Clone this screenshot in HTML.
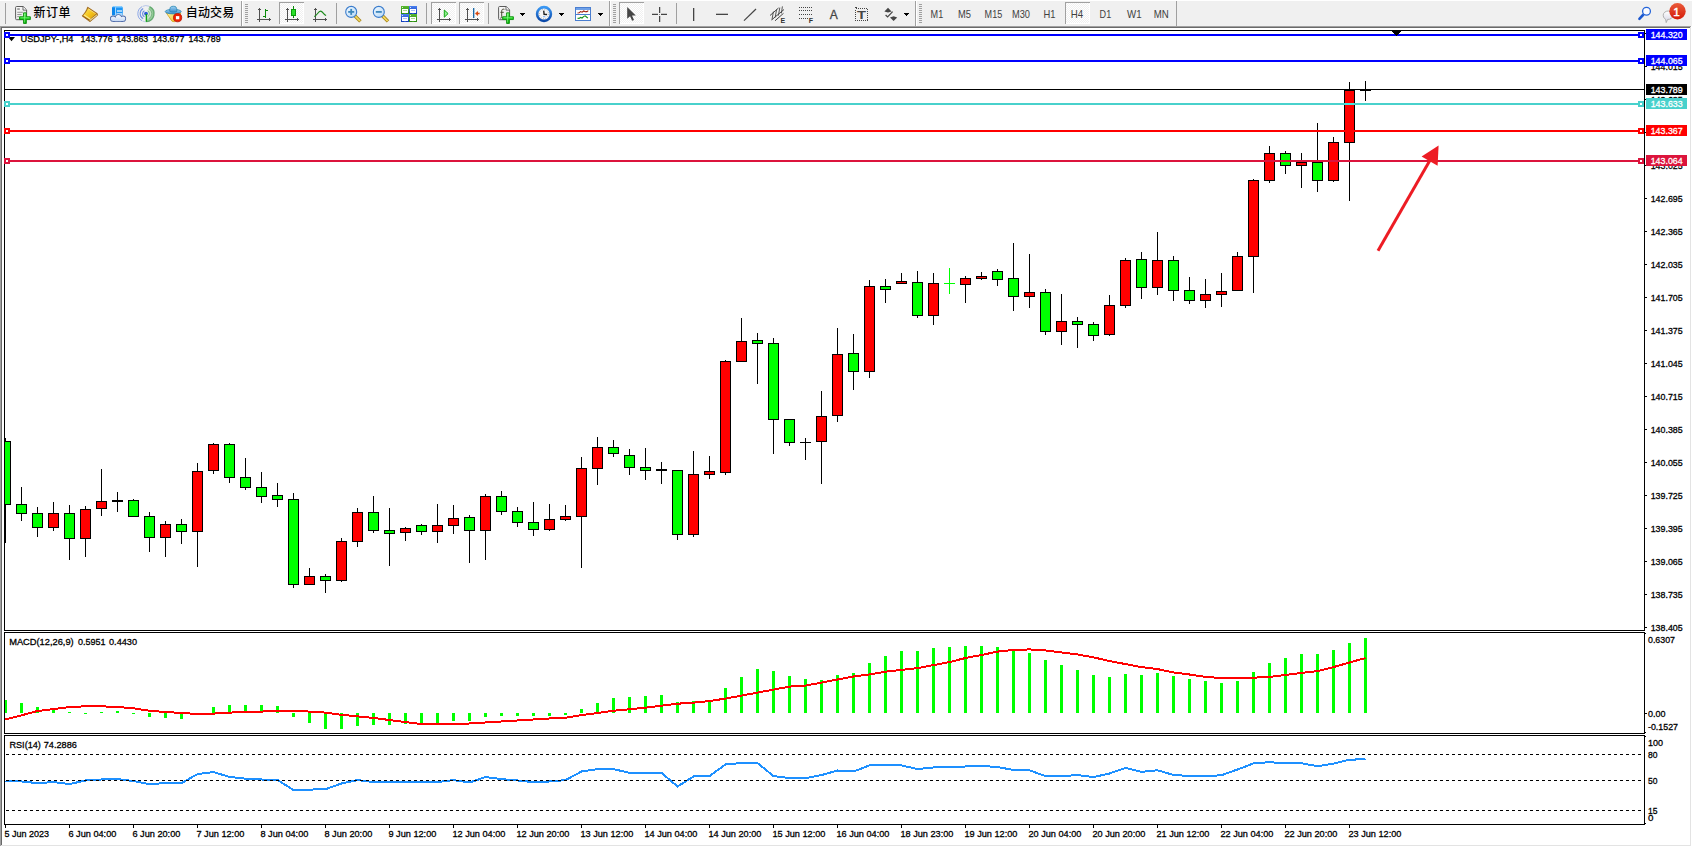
<!DOCTYPE html>
<html lang="zh-CN"><head><meta charset="utf-8"><title>USDJPY-,H4</title>
<style>
html,body{margin:0;padding:0;background:#f0f0f0;}
body{width:1692px;height:847px;overflow:hidden;position:relative;font-family:"Liberation Sans","Noto Sans CJK SC",sans-serif;}
svg{position:absolute;left:0;top:0;display:block;}
svg text{font-family:"Liberation Sans","Noto Sans CJK SC",sans-serif;white-space:pre;}
.cj{font-family:"Liberation Sans","Noto Sans CJK SC",sans-serif;}
</style></head><body>
<svg width="1692" height="847" viewBox="0 0 1692 847" shape-rendering="crispEdges">
<rect x="0" y="0" width="1692" height="26" fill="#f0f0f0"/>
<rect x="0" y="0" width="1692" height="1" fill="#ffffff"/>
<defs>
<linearGradient id="gPlus" x1="0" y1="0" x2="0" y2="1"><stop offset="0" stop-color="#7dff7d"/><stop offset="0.5" stop-color="#1fd51f"/><stop offset="1" stop-color="#0cae0c"/></linearGradient>
<linearGradient id="gPage" x1="0" y1="0" x2="1" y2="1"><stop offset="0" stop-color="#ffffff"/><stop offset="1" stop-color="#dcdcdc"/></linearGradient>
<linearGradient id="gGold" x1="0" y1="0" x2="1" y2="1"><stop offset="0" stop-color="#ffe968"/><stop offset="0.5" stop-color="#f4c41c"/><stop offset="1" stop-color="#d8980e"/></linearGradient>
<linearGradient id="gBlue" x1="0" y1="0" x2="0" y2="1"><stop offset="0" stop-color="#8fd0ff"/><stop offset="1" stop-color="#1c78e0"/></linearGradient>
<linearGradient id="gCloud" x1="0" y1="14.5" x2="0" y2="21.5" gradientUnits="userSpaceOnUse"><stop offset="0" stop-color="#ffffff"/><stop offset="1" stop-color="#c4d8f4"/></linearGradient>
<linearGradient id="gLens" x1="0" y1="0" x2="1" y2="1"><stop offset="0" stop-color="#f4faff"/><stop offset="1" stop-color="#b4d8f8"/></linearGradient>
<linearGradient id="gHat" x1="0" y1="0" x2="0" y2="1"><stop offset="0" stop-color="#9fd4f4"/><stop offset="1" stop-color="#3f8ccc"/></linearGradient>
<linearGradient id="gFace" x1="0" y1="0" x2="1" y2="1"><stop offset="0" stop-color="#fff4a0"/><stop offset="1" stop-color="#e8b820"/></linearGradient>
<linearGradient id="gRed" x1="0" y1="0" x2="0" y2="1"><stop offset="0" stop-color="#ea5a3a"/><stop offset="1" stop-color="#d41a08"/></linearGradient>
<linearGradient id="gClock" x1="0" y1="0" x2="0" y2="1"><stop offset="0" stop-color="#3a98f4"/><stop offset="1" stop-color="#0a48a8"/></linearGradient>
<linearGradient id="gGrn" x1="0" y1="0" x2="0" y2="1"><stop offset="0" stop-color="#58b830"/><stop offset="1" stop-color="#2a8a10"/></linearGradient>
<linearGradient id="gBlu2" x1="0" y1="0" x2="0" y2="1"><stop offset="0" stop-color="#4a80f0"/><stop offset="1" stop-color="#1038b8"/></linearGradient>
<linearGradient id="gBub" x1="0" y1="0" x2="0" y2="1"><stop offset="0" stop-color="#ffffff"/><stop offset="1" stop-color="#d4d4e4"/></linearGradient>
<radialGradient id="gSweep" cx="146" cy="13.7" r="8.2" gradientUnits="userSpaceOnUse"><stop offset="0" stop-color="#f4faf0" stop-opacity=".5"/><stop offset=".6" stop-color="#b8dcb8" stop-opacity=".75"/><stop offset="1" stop-color="#4aa854" stop-opacity=".8"/></radialGradient>
<pattern id="chk" x="0" y="0" width="2" height="2" patternUnits="userSpaceOnUse"><rect width="2" height="2" fill="#f0f0f0"/><rect x="0" y="0" width="1" height="1" fill="#fff"/><rect x="1" y="1" width="1" height="1" fill="#fff"/></pattern>
</defs>
<rect x="5" y="3" width="1" height="21" fill="#a0a0a0"/>
<g shape-rendering="geometricPrecision"><path d="M16.6 6.5h6.6l3.4 3.4v8.8a1 1 0 0 1-1 1h-9a1 1 0 0 1-1-1v-11.2a1 1 0 0 1 1-1z" fill="url(#gPage)" stroke="#5c5c5c" stroke-width="1"/><path d="M23 6.8v3.3h3.3" fill="#fff" stroke="#5c5c5c" stroke-width=".9"/><rect x="17.2" y="8.4" width="2.6" height="1.3" fill="#7a7a7a"/><rect x="17.2" y="11.8" width="5.6" height=".9" fill="#8a8a8a"/><rect x="17.2" y="14" width="4.4" height=".9" fill="#8a8a8a"/><rect x="17.2" y="16.2" width="2" height=".9" fill="#8a8a8a"/></g>
<path d="M23.55 12.849999999999998h2.8v3.9h4.0v2.8h-4.0v3.9h-2.8v-3.9h-4.0v-2.8h4.0z" fill="url(#gPlus)" stroke="#0b8f0b" stroke-width=".9" stroke-linejoin="round" shape-rendering="geometricPrecision"/>
<path d="M24.45 13.849999999999998v8.6M20.549999999999997 17.75h8.8" stroke="#b4ffb4" stroke-width=".8" opacity=".55" fill="none" shape-rendering="geometricPrecision"/>
<text class="cj" x="33.6" y="17.3" font-size="12" font-weight="500" fill="#000" textLength="37" lengthAdjust="spacing">新订单</text>
<g shape-rendering="geometricPrecision"><path d="M87.6 7.1L97.3 13.5l.4 1.7L90 21.8l-8-5.9c2.6-2.4 4.600-5.400 5.600-8.800z" fill="#9c6210" stroke="#9c6210" stroke-width=".6" stroke-linejoin="round"/><path d="M96.9 14.300l.3 1L90 21l-.6-1z" fill="#e8dca0"/><path d="M88 8.200l8.300 5.500-6.700 5.900-6.400-4.200c2.200-2.100 3.800-4.500 4.800-7.200z" fill="url(#gGold)"/><path d="M83.600 15.500l6 3.900 1-.9-6.200-4z" fill="#fff2a0" opacity=".8"/><path d="M88.500 8.900l7.200 4.800" stroke="#fff8c8" stroke-width=".7" opacity=".75" fill="none"/></g>
<g shape-rendering="geometricPrecision"><path d="M112 7.400l1.500-1.300h8l1.300 1.300v7.800h-10.800z" fill="#1c96f6"/><path d="M112 7.400l1.500-1.300h8l1.300 1.300z" fill="#8cd0ff"/><path d="M112 7.400h3.300v7.800h-3.300z" fill="#0c86ec"/><rect x="115.100" y="7.400" width=".7" height="7.800" fill="#e4f4ff"/><rect x="117" y="10.4" width="5" height="1.2" fill="#f4fbff"/><rect x="116.4" y="13" width="6" height="2.2" fill="#a4d6ff"/><g fill="#4a68a8"><circle cx="113.1" cy="18.7" r="3.1"/><circle cx="118.4" cy="17.7" r="3.5"/><circle cx="123" cy="18.7" r="3.1"/><rect x="113" y="18" width="10" height="3.8"/></g><g fill="url(#gCloud)"><circle cx="113.1" cy="18.7" r="2.3"/><circle cx="118.4" cy="17.7" r="2.7"/><circle cx="123" cy="18.7" r="2.3"/><rect x="113" y="17.6" width="10" height="3.4"/></g></g>
<g shape-rendering="geometricPrecision" fill="none"><path d="M146 13.7L149.600 6.500A8.100 8.100 0 0 1 146.400 21.800z" fill="url(#gSweep)" stroke="none"/><g stroke="#3c6cdc"><path d="M144.400 10.700a3.400 3.400 0 0 0 0 6" stroke-width="1.100" opacity=".8"/><path d="M143.200 8.600a5.800 5.800 0 0 0 0 10.200" stroke-width="1.100" opacity=".7"/><path d="M142 6.700a8 8 0 0 0 0 14" stroke-width="1" opacity=".55"/><path d="M142.500 6.400a8 8 0 0 1 6.500 -.2" stroke-width=".9" opacity=".35"/><path d="M142.500 21a8 8 0 0 0 3.200 .8" stroke-width=".9" opacity=".3"/></g><g stroke="#4c9c5c"><path d="M147.600 10.700a3.400 3.400 0 0 1 0 6" stroke-width="1" opacity=".55"/><path d="M148.800 8.600a5.800 5.800 0 0 1 0 10.200" stroke-width="1" opacity=".55"/><path d="M149.600 6.500A8 8 0 0 1 146.400 21.700" stroke-width="1.100" opacity=".8"/></g><circle cx="146" cy="13.600" r="1.900" fill="#2a5cd8" stroke="none"/><rect x="145.700" y="14" width="1.400" height="7.800" fill="#10a418" stroke="none"/></g>
<g shape-rendering="geometricPrecision"><path d="M166.400 13h14.600l-6.600 8.800-2.400-.6z" fill="url(#gFace)" stroke="#d2a016" stroke-width=".8"/><ellipse cx="173.200" cy="11.600" rx="8" ry="2.300" fill="url(#gHat)" stroke="#2a86b4" stroke-width=".8"/><path d="M169.600 11.200c.2-2 .4-3.400 1-4.200c.8-1 4.600-1 5.400 0c.6.800.800 2.200 1 4.200c-1.800 1.200-5.600 1.200-7.400 0z" fill="url(#gHat)" stroke="#2a86b4" stroke-width=".8"/><circle cx="177.600" cy="17.700" r="4.100" fill="#ee2200" stroke="#b41404" stroke-width=".8"/><rect x="175.900" y="16.100" width="3.400" height="3.200" fill="#fff"/></g>
<text class="cj" x="185.8" y="17.3" font-size="12" font-weight="500" fill="#000" textLength="48.5" lengthAdjust="spacing">自动交易</text>
<rect x="241" y="1" width="1" height="25" fill="#a0a0a0"/><rect x="242" y="1" width="1" height="25" fill="#fff"/>
<rect x="245" y="4" width="3" height="1" fill="#a0a0a0"/>
<rect x="245" y="6" width="3" height="1" fill="#a0a0a0"/>
<rect x="245" y="8" width="3" height="1" fill="#a0a0a0"/>
<rect x="245" y="10" width="3" height="1" fill="#a0a0a0"/>
<rect x="245" y="12" width="3" height="1" fill="#a0a0a0"/>
<rect x="245" y="14" width="3" height="1" fill="#a0a0a0"/>
<rect x="245" y="16" width="3" height="1" fill="#a0a0a0"/>
<rect x="245" y="18" width="3" height="1" fill="#a0a0a0"/>
<rect x="245" y="20" width="3" height="1" fill="#a0a0a0"/>
<rect x="245" y="22" width="3" height="1" fill="#a0a0a0"/>
<g fill="#505050"><rect x="259" y="8" width="1" height="14"/><rect x="258" y="9" width="3" height="1"/><rect x="257" y="19" width="14" height="1"/><rect x="269" y="18" width="1" height="3"/></g>
<g fill="#0a8a0a"><rect x="265" y="9" width="1" height="9"/><rect x="266" y="10" width="2" height="1"/><rect x="263" y="16" width="2" height="1"/></g>
<rect x="279" y="2" width="25" height="22" fill="url(#chk)"/>
<rect x="279" y="2" width="25" height="1" fill="#a0a0a0"/><rect x="279" y="2" width="1" height="22" fill="#a0a0a0"/>
<rect x="280" y="23" width="24" height="1" fill="#fff"/><rect x="303" y="3" width="1" height="21" fill="#fff"/>
<g fill="#505050"><rect x="287" y="8" width="1" height="14"/><rect x="286" y="9" width="3" height="1"/><rect x="285" y="19" width="14" height="1"/><rect x="297" y="18" width="1" height="3"/></g>
<g><rect x="293" y="6" width="1" height="12" fill="#0a8a0a"/><rect x="291" y="9" width="5" height="7" fill="#0a9a0a"/><rect x="292" y="10" width="3" height="5" fill="#28e028"/></g>
<g fill="#505050"><rect x="315" y="8" width="1" height="14"/><rect x="314" y="9" width="3" height="1"/><rect x="313" y="19" width="14" height="1"/><rect x="325" y="18" width="1" height="3"/></g>
<path d="M314.3 16.6c3-1.5 4-5.4 6.2-5.4s3 3.4 5.6 4.3" fill="none" stroke="#1a8a1a" stroke-width="1.2" shape-rendering="geometricPrecision"/>
<rect x="336" y="3" width="1" height="21" fill="#a0a0a0"/>
<g shape-rendering="geometricPrecision"><path d="M354.8 15.8l5.600 5.600" stroke="#a8861a" stroke-width="3.400" stroke-linecap="butt"/><path d="M355.2 16.2l4.800 4.800" stroke="#f4da60" stroke-width="1.700" stroke-linecap="butt"/><circle cx="351.2" cy="11.9" r="5.500" fill="url(#gLens)" stroke="#3a7ccc" stroke-width="1.100"/><rect x="348.2" y="11" width="6" height="1.800" fill="#3f88bc"/><rect x="350.3" y="8.9" width="1.800" height="6" fill="#3f88bc"/></g>
<g shape-rendering="geometricPrecision"><path d="M382.40000000000003 15.8l5.600 5.600" stroke="#a8861a" stroke-width="3.400" stroke-linecap="butt"/><path d="M382.8 16.2l4.800 4.800" stroke="#f4da60" stroke-width="1.700" stroke-linecap="butt"/><circle cx="378.8" cy="11.9" r="5.500" fill="url(#gLens)" stroke="#3a7ccc" stroke-width="1.100"/><rect x="375.8" y="11" width="6" height="1.800" fill="#3f88bc"/></g>
<rect x="401" y="6" width="8" height="8" fill="url(#gGrn)"/><rect x="402" y="7" width="1" height="1" fill="#fff" opacity=".8"/><rect x="402" y="9" width="6" height="4" fill="#fff"/><rect x="403" y="10" width="4" height="1" fill="#a8d890"/><rect x="404" y="13" width="2" height="1" fill="url(#gGrn)"/>
<rect x="409" y="6" width="8" height="8" fill="url(#gBlu2)"/><rect x="410" y="7" width="1" height="1" fill="#fff" opacity=".8"/><rect x="410" y="9" width="6" height="4" fill="#fff"/><rect x="411" y="10" width="4" height="1" fill="#a8c0f8"/><rect x="412" y="13" width="2" height="1" fill="url(#gBlu2)"/>
<rect x="401" y="14" width="8" height="8" fill="url(#gBlu2)"/><rect x="402" y="15" width="1" height="1" fill="#fff" opacity=".8"/><rect x="402" y="17" width="6" height="4" fill="#fff"/><rect x="403" y="18" width="4" height="1" fill="#a8c0f8"/><rect x="404" y="21" width="2" height="1" fill="url(#gBlu2)"/>
<rect x="409" y="14" width="8" height="8" fill="url(#gGrn)"/><rect x="410" y="15" width="1" height="1" fill="#fff" opacity=".8"/><rect x="410" y="17" width="6" height="4" fill="#fff"/><rect x="411" y="18" width="4" height="1" fill="#a8d890"/><rect x="412" y="21" width="2" height="1" fill="url(#gGrn)"/>
<rect x="426" y="3" width="1" height="21" fill="#a0a0a0"/>
<rect x="431" y="2" width="25" height="22" fill="url(#chk)"/>
<rect x="431" y="2" width="25" height="1" fill="#a0a0a0"/><rect x="431" y="2" width="1" height="22" fill="#a0a0a0"/>
<rect x="432" y="23" width="24" height="1" fill="#fff"/><rect x="455" y="3" width="1" height="21" fill="#fff"/>
<g fill="#505050"><rect x="439" y="8" width="1" height="14"/><rect x="438" y="9" width="3" height="1"/><rect x="437" y="19" width="14" height="1"/><rect x="449" y="18" width="1" height="3"/></g>
<path d="M444.3 10l3.8 3.6-3.8 3.6z" fill="#8cf08c" stroke="#14a814" stroke-width="1" shape-rendering="geometricPrecision"/>
<rect x="459" y="2" width="25" height="22" fill="url(#chk)"/>
<rect x="459" y="2" width="25" height="1" fill="#a0a0a0"/><rect x="459" y="2" width="1" height="22" fill="#a0a0a0"/>
<rect x="460" y="23" width="24" height="1" fill="#fff"/><rect x="483" y="3" width="1" height="21" fill="#fff"/>
<g fill="#505050"><rect x="467" y="8" width="1" height="14"/><rect x="466" y="9" width="3" height="1"/><rect x="465" y="19" width="14" height="1"/><rect x="477" y="18" width="1" height="3"/></g>
<rect x="473" y="8" width="1" height="10" fill="#1a6aa8"/><rect x="474" y="8" width="1" height="10" fill="#1a6aa8" opacity=".35"/><path d="M475 13.5l3-2.4v1.7h1.6v1.4h-1.6v1.7z" fill="#d84a10" shape-rendering="geometricPrecision"/>
<rect x="488" y="3" width="1" height="21" fill="#a0a0a0"/>
<g shape-rendering="geometricPrecision"><path d="M499.600 6.500h6.600l3.400 3.400v8.800a1 1 0 0 1-1 1h-9a1 1 0 0 1-1-1v-11.200a1 1 0 0 1 1-1z" fill="url(#gPage)" stroke="#5c5c5c" stroke-width="1"/><path d="M506 6.800v3.300h3.300" fill="#fff" stroke="#5c5c5c" stroke-width=".9"/><path d="M504.400 9.300c-1.900-.6-2.700.3-2.700 1.900v5.400c0 1.200-.5 1.700-1.500 1.500M500.400 12.300h3.400" fill="none" stroke="#4a4a34" stroke-width="1"/></g>
<path d="M506.6 12.849999999999998h2.8v3.9h4.0v2.8h-4.0v3.9h-2.8v-3.9h-4.0v-2.8h4.0z" fill="url(#gPlus)" stroke="#0b8f0b" stroke-width=".9" stroke-linejoin="round" shape-rendering="geometricPrecision"/>
<path d="M507.5 13.849999999999998v8.6M503.6 17.75h8.8" stroke="#b4ffb4" stroke-width=".8" opacity=".55" fill="none" shape-rendering="geometricPrecision"/>
<rect x="520" y="13" width="5" height="1" fill="#000"/><rect x="521" y="14" width="3" height="1" fill="#000"/><rect x="522" y="15" width="1" height="1" fill="#000"/>
<g shape-rendering="geometricPrecision"><circle cx="544" cy="14" r="6.900" fill="#f6f6f6" stroke="url(#gClock)" stroke-width="2.600"/><circle cx="544" cy="14" r="4.600" fill="none" stroke="#9a9a9a" stroke-width="1" stroke-dasharray="0.700 1.709"/><path d="M543.700 10.600l.4 3.700 3 .2" fill="none" stroke="#202020" stroke-width="1.400"/><rect x="543" y="16.300" width="2.200" height=".9" fill="#6aa8f8"/></g>
<rect x="559" y="13" width="5" height="1" fill="#000"/><rect x="560" y="14" width="3" height="1" fill="#000"/><rect x="561" y="15" width="1" height="1" fill="#000"/>
<g shape-rendering="geometricPrecision"><rect x="575.5" y="7.5" width="15" height="13" fill="#fff" stroke="#4a7ed0"/><rect x="576" y="8" width="14" height="2" fill="#6ea0e8"/><rect x="576" y="14" width="14" height="1" fill="#4a7ed0"/><path d="M577.5 13l1.6-.2 1.4-1.2 1.6.6 1.6-1.2 1.6.8 1.6-.2 1.4-1" fill="none" stroke="#a01c08" stroke-width="1.1"/><path d="M577.5 18.2l1.6.2 1.4-1 1.6.6 1.4-1.4 1.6-.8 1.4 1.2 1.4 1.2" fill="none" stroke="#149014" stroke-width="1.1"/></g>
<rect x="598" y="13" width="5" height="1" fill="#000"/><rect x="599" y="14" width="3" height="1" fill="#000"/><rect x="600" y="15" width="1" height="1" fill="#000"/>
<rect x="609" y="1" width="1" height="25" fill="#a0a0a0"/><rect x="610" y="1" width="1" height="25" fill="#fff"/>
<rect x="613" y="4" width="3" height="1" fill="#a0a0a0"/>
<rect x="613" y="6" width="3" height="1" fill="#a0a0a0"/>
<rect x="613" y="8" width="3" height="1" fill="#a0a0a0"/>
<rect x="613" y="10" width="3" height="1" fill="#a0a0a0"/>
<rect x="613" y="12" width="3" height="1" fill="#a0a0a0"/>
<rect x="613" y="14" width="3" height="1" fill="#a0a0a0"/>
<rect x="613" y="16" width="3" height="1" fill="#a0a0a0"/>
<rect x="613" y="18" width="3" height="1" fill="#a0a0a0"/>
<rect x="613" y="20" width="3" height="1" fill="#a0a0a0"/>
<rect x="613" y="22" width="3" height="1" fill="#a0a0a0"/>
<rect x="619" y="2" width="25" height="22" fill="url(#chk)"/>
<rect x="619" y="2" width="25" height="1" fill="#a0a0a0"/><rect x="619" y="2" width="1" height="22" fill="#a0a0a0"/>
<rect x="620" y="23" width="24" height="1" fill="#fff"/><rect x="643" y="3" width="1" height="21" fill="#fff"/>
<path d="M627.2 7v11.8l2.9-2.6 2 4.6 1.9-.9-2-4.4h3.8z" fill="#454545" shape-rendering="geometricPrecision"/>
<g fill="#454545"><rect x="652" y="14" width="6" height="1"/><rect x="661" y="14" width="6" height="1"/><rect x="659" y="7" width="1" height="6"/><rect x="659" y="16" width="1" height="6"/><rect x="659" y="14" width="1" height="1" opacity=".6"/><rect x="652" y="13" width="6" height="1" opacity=".25"/><rect x="661" y="13" width="6" height="1" opacity=".25"/><rect x="660" y="7" width="1" height="6" opacity=".25"/><rect x="660" y="16" width="1" height="6" opacity=".25"/></g>
<rect x="676" y="3" width="1" height="21" fill="#a0a0a0"/>
<rect x="693" y="8" width="1" height="13" fill="#454545"/><rect x="694" y="8" width="1" height="13" fill="#454545" opacity=".3"/>
<rect x="716" y="14" width="12" height="1" fill="#454545"/><rect x="716" y="13" width="12" height="1" fill="#454545" opacity=".3"/>
<path d="M744 20.6L756 9" stroke="#454545" stroke-width="1.2" fill="none" shape-rendering="geometricPrecision"/>
<g shape-rendering="geometricPrecision" stroke="#454545" fill="none" stroke-width="1"><path d="M770 15.5l8.5-7.5M771.5 20l12.5-10.5M775 20.8l8.5-7.5"/><path d="M773.4 11.6l-1.4 8M776.6 9.4l-1.4 8M779.8 7.6l-1.4 8M782.4 6.4l-1 7" stroke-width=".9"/></g>
<text x="780.5" y="23" font-size="7" font-weight="bold" fill="#303030">E</text>
<line x1="799" y1="7.5" x2="813" y2="7.5" stroke="#454545" stroke-width="1" stroke-dasharray="1 1"/>
<line x1="799" y1="10.5" x2="813" y2="10.5" stroke="#454545" stroke-width="1" stroke-dasharray="1 1"/>
<line x1="799" y1="14.5" x2="813" y2="14.5" stroke="#454545" stroke-width="1" stroke-dasharray="1 1"/>
<line x1="799" y1="18.5" x2="808" y2="18.5" stroke="#454545" stroke-width="1" stroke-dasharray="1 1"/>
<text x="808.8" y="23" font-size="7" font-weight="bold" fill="#303030">F</text>
<text x="829.8" y="18.8" font-size="12" fill="#454545" stroke="#454545" stroke-width=".3">A</text>
<rect x="855.5" y="8.5" width="12" height="12" fill="none" stroke="#454545" stroke-width="1" stroke-dasharray="1 1"/><rect x="855" y="7" width="2" height="1" fill="#454545"/>
<text x="857" y="18.9" font-size="11" font-weight="bold" fill="#454545" textLength="9" lengthAdjust="spacingAndGlyphs">T</text>
<g shape-rendering="geometricPrecision" fill="#454545"><path d="M888 7.8l3.6 3.6-3.6 1.2-3.6-1.2z"/><path d="M893.6 21l-3.6-3.6 3.6-1.2 3.6 1.2z"/><path d="M885.6 15l2 2 5-5.4" fill="none" stroke="#454545" stroke-width="1.2"/></g>
<rect x="904" y="13" width="5" height="1" fill="#000"/><rect x="905" y="14" width="3" height="1" fill="#000"/><rect x="906" y="15" width="1" height="1" fill="#000"/>
<rect x="915" y="1" width="1" height="25" fill="#a0a0a0"/><rect x="916" y="1" width="1" height="25" fill="#fff"/>
<rect x="919" y="4" width="3" height="1" fill="#a0a0a0"/>
<rect x="919" y="6" width="3" height="1" fill="#a0a0a0"/>
<rect x="919" y="8" width="3" height="1" fill="#a0a0a0"/>
<rect x="919" y="10" width="3" height="1" fill="#a0a0a0"/>
<rect x="919" y="12" width="3" height="1" fill="#a0a0a0"/>
<rect x="919" y="14" width="3" height="1" fill="#a0a0a0"/>
<rect x="919" y="16" width="3" height="1" fill="#a0a0a0"/>
<rect x="919" y="18" width="3" height="1" fill="#a0a0a0"/>
<rect x="919" y="20" width="3" height="1" fill="#a0a0a0"/>
<rect x="919" y="22" width="3" height="1" fill="#a0a0a0"/>
<rect x="1065" y="2" width="25" height="22" fill="url(#chk)"/>
<rect x="1065" y="2" width="25" height="1" fill="#a0a0a0"/><rect x="1065" y="2" width="1" height="22" fill="#a0a0a0"/>
<rect x="1066" y="23" width="24" height="1" fill="#fff"/><rect x="1089" y="3" width="1" height="21" fill="#fff"/>
<text x="930.6" y="18" font-size="11" fill="#404040" textLength="12.6" lengthAdjust="spacingAndGlyphs">M1</text>
<text x="958" y="18" font-size="11" fill="#404040" textLength="13" lengthAdjust="spacingAndGlyphs">M5</text>
<text x="984.6" y="18" font-size="11" fill="#404040" textLength="17.6" lengthAdjust="spacingAndGlyphs">M15</text>
<text x="1012" y="18" font-size="11" fill="#404040" textLength="18" lengthAdjust="spacingAndGlyphs">M30</text>
<text x="1043.6" y="18" font-size="11" fill="#404040" textLength="12" lengthAdjust="spacingAndGlyphs">H1</text>
<text x="1070.8" y="18" font-size="11" fill="#404040" textLength="12.4" lengthAdjust="spacingAndGlyphs">H4</text>
<text x="1099.6" y="18" font-size="11" fill="#404040" textLength="11.6" lengthAdjust="spacingAndGlyphs">D1</text>
<text x="1127" y="18" font-size="11" fill="#404040" textLength="14.6" lengthAdjust="spacingAndGlyphs">W1</text>
<text x="1153.8" y="18" font-size="11" fill="#404040" textLength="15" lengthAdjust="spacingAndGlyphs">MN</text>
<rect x="1176" y="1" width="1" height="25" fill="#a0a0a0"/>
<g shape-rendering="geometricPrecision"><path d="M1643 15l-3.6 3.8" stroke="#1c58d0" stroke-width="2.6" stroke-linecap="round" fill="none"/><circle cx="1646.5" cy="11.3" r="3.9" fill="#fbfbff" stroke="#2464d8" stroke-width="1.3"/></g>
<g shape-rendering="geometricPrecision"><path d="M1663.2 15.2a4.9 4.2 0 1 1 4.4 4.2l-1.4 3.2-.6-3.4a4.9 4.2 0 0 1-2.4-4z" fill="url(#gBub)" stroke="#a8a8a8" stroke-width=".9"/><circle cx="1677.5" cy="11.3" r="8.2" fill="url(#gRed)"/></g>
<text x="1676.5" y="15.8" font-size="11.7" fill="#fff" stroke="#fff" stroke-width=".45" text-anchor="middle" font-family="DejaVu Sans, Liberation Sans, sans-serif">1</text>
<rect x="0" y="26" width="1692" height="821" fill="#fff"/>
<rect x="0" y="26" width="1692" height="1" fill="#a0a0a0"/>
<rect x="0" y="26" width="1" height="821" fill="#a0a0a0"/>
<rect x="1" y="27" width="1690" height="1" fill="#696969"/>
<rect x="1" y="27" width="1" height="819" fill="#696969"/>
<rect x="1690" y="27" width="1" height="819" fill="#e3e3e3"/>
<rect x="1" y="845" width="1690" height="1" fill="#e3e3e3"/>
<rect x="1691" y="26" width="1" height="821" fill="#fff"/>
<rect x="0" y="846" width="1692" height="1" fill="#fff"/>
<rect x="4" y="30" width="1641" height="1" fill="#000"/>
<rect x="4" y="30" width="1" height="795" fill="#000"/>
<rect x="1644" y="30" width="1" height="601" fill="#000"/>
<rect x="4" y="630" width="1641" height="1" fill="#000"/>
<rect x="4" y="632" width="1641" height="1" fill="#000"/>
<rect x="4" y="733" width="1641" height="1" fill="#000"/>
<rect x="1644" y="632" width="1" height="102" fill="#000"/>
<rect x="4" y="631" width="1" height="1" fill="#fff"/>
<rect x="4" y="734" width="1" height="1" fill="#fff"/>
<rect x="4" y="735" width="1641" height="1" fill="#000"/>
<rect x="4" y="824" width="1641" height="1" fill="#000"/>
<rect x="1644" y="735" width="1" height="90" fill="#000"/>
<rect x="1645" y="33" width="2" height="1" fill="#000"/>
<rect x="1645" y="66" width="2" height="1" fill="#000"/>
<text x="1650.7" y="69.7" font-size="9.8" fill="#000" stroke="#000" stroke-width="0.3" textLength="32" lengthAdjust="spacingAndGlyphs">144.015</text>
<rect x="1645" y="99" width="2" height="1" fill="#000"/>
<text x="1650.7" y="102.7" font-size="9.8" fill="#000" stroke="#000" stroke-width="0.3" textLength="32" lengthAdjust="spacingAndGlyphs">143.685</text>
<rect x="1645" y="132" width="2" height="1" fill="#000"/>
<rect x="1645" y="165" width="2" height="1" fill="#000"/>
<text x="1650.7" y="168.7" font-size="9.8" fill="#000" stroke="#000" stroke-width="0.3" textLength="32" lengthAdjust="spacingAndGlyphs">143.025</text>
<rect x="1645" y="198" width="2" height="1" fill="#000"/>
<text x="1650.7" y="201.7" font-size="9.8" fill="#000" stroke="#000" stroke-width="0.3" textLength="32" lengthAdjust="spacingAndGlyphs">142.695</text>
<rect x="1645" y="231" width="2" height="1" fill="#000"/>
<text x="1650.7" y="234.7" font-size="9.8" fill="#000" stroke="#000" stroke-width="0.3" textLength="32" lengthAdjust="spacingAndGlyphs">142.365</text>
<rect x="1645" y="264" width="2" height="1" fill="#000"/>
<text x="1650.7" y="267.7" font-size="9.8" fill="#000" stroke="#000" stroke-width="0.3" textLength="32" lengthAdjust="spacingAndGlyphs">142.035</text>
<rect x="1645" y="297" width="2" height="1" fill="#000"/>
<text x="1650.7" y="300.7" font-size="9.8" fill="#000" stroke="#000" stroke-width="0.3" textLength="32" lengthAdjust="spacingAndGlyphs">141.705</text>
<rect x="1645" y="330" width="2" height="1" fill="#000"/>
<text x="1650.7" y="333.7" font-size="9.8" fill="#000" stroke="#000" stroke-width="0.3" textLength="32" lengthAdjust="spacingAndGlyphs">141.375</text>
<rect x="1645" y="363" width="2" height="1" fill="#000"/>
<text x="1650.7" y="366.7" font-size="9.8" fill="#000" stroke="#000" stroke-width="0.3" textLength="32" lengthAdjust="spacingAndGlyphs">141.045</text>
<rect x="1645" y="396" width="2" height="1" fill="#000"/>
<text x="1650.7" y="399.7" font-size="9.8" fill="#000" stroke="#000" stroke-width="0.3" textLength="32" lengthAdjust="spacingAndGlyphs">140.715</text>
<rect x="1645" y="429" width="2" height="1" fill="#000"/>
<text x="1650.7" y="432.7" font-size="9.8" fill="#000" stroke="#000" stroke-width="0.3" textLength="32" lengthAdjust="spacingAndGlyphs">140.385</text>
<rect x="1645" y="462" width="2" height="1" fill="#000"/>
<text x="1650.7" y="465.7" font-size="9.8" fill="#000" stroke="#000" stroke-width="0.3" textLength="32" lengthAdjust="spacingAndGlyphs">140.055</text>
<rect x="1645" y="495" width="2" height="1" fill="#000"/>
<text x="1650.7" y="498.7" font-size="9.8" fill="#000" stroke="#000" stroke-width="0.3" textLength="32" lengthAdjust="spacingAndGlyphs">139.725</text>
<rect x="1645" y="528" width="2" height="1" fill="#000"/>
<text x="1650.7" y="531.7" font-size="9.8" fill="#000" stroke="#000" stroke-width="0.3" textLength="32" lengthAdjust="spacingAndGlyphs">139.395</text>
<rect x="1645" y="561" width="2" height="1" fill="#000"/>
<text x="1650.7" y="564.7" font-size="9.8" fill="#000" stroke="#000" stroke-width="0.3" textLength="32" lengthAdjust="spacingAndGlyphs">139.065</text>
<rect x="1645" y="594" width="2" height="1" fill="#000"/>
<text x="1650.7" y="597.7" font-size="9.8" fill="#000" stroke="#000" stroke-width="0.3" textLength="32" lengthAdjust="spacingAndGlyphs">138.735</text>
<rect x="1645" y="627" width="2" height="1" fill="#000"/>
<text x="1650.7" y="630.7" font-size="9.8" fill="#000" stroke="#000" stroke-width="0.3" textLength="32" lengthAdjust="spacingAndGlyphs">138.405</text>
<rect x="1645" y="633" width="1" height="1" fill="#000"/>
<rect x="1645" y="713" width="2" height="1" fill="#000"/>
<rect x="1645" y="732" width="1" height="1" fill="#000"/>
<text x="1648" y="642.7" font-size="9.8" fill="#000" stroke="#000" stroke-width="0.3" textLength="27" lengthAdjust="spacingAndGlyphs">0.6307</text>
<text x="1648" y="716.7" font-size="9.8" fill="#000" stroke="#000" stroke-width="0.3" textLength="17.5" lengthAdjust="spacingAndGlyphs">0.00</text>
<text x="1648" y="729.7" font-size="9.8" fill="#000" stroke="#000" stroke-width="0.3" textLength="30" lengthAdjust="spacingAndGlyphs">-0.1527</text>
<rect x="1645" y="736" width="1" height="1" fill="#000"/>
<rect x="1645" y="823" width="1" height="1" fill="#000"/>
<text x="1648" y="745.7" font-size="9.8" fill="#000" stroke="#000" stroke-width="0.3" textLength="15" lengthAdjust="spacingAndGlyphs">100</text>
<text x="1648" y="757.7" font-size="9.8" fill="#000" stroke="#000" stroke-width="0.3" textLength="9.5" lengthAdjust="spacingAndGlyphs">80</text>
<text x="1648" y="783.7" font-size="9.8" fill="#000" stroke="#000" stroke-width="0.3" textLength="9.5" lengthAdjust="spacingAndGlyphs">50</text>
<text x="1648" y="813.7" font-size="9.8" fill="#000" stroke="#000" stroke-width="0.3" textLength="9.5" lengthAdjust="spacingAndGlyphs">15</text>
<text x="1648" y="820.7" font-size="9.8" fill="#000" stroke="#000" stroke-width="0.3">0</text>
<path d="M8 37h7l-3.5 4.300z" fill="#000" shape-rendering="geometricPrecision"/>
<text x="20.5" y="41.7" font-size="9.8" fill="#000" stroke="#000" stroke-width="0.3" textLength="53" lengthAdjust="spacingAndGlyphs">USDJPY-,H4</text>
<text x="80.6" y="41.7" font-size="9.8" fill="#000" stroke="#000" stroke-width="0.3" textLength="32" lengthAdjust="spacingAndGlyphs">143.776</text>
<text x="116.3" y="41.7" font-size="9.8" fill="#000" stroke="#000" stroke-width="0.3" textLength="32" lengthAdjust="spacingAndGlyphs">143.863</text>
<text x="152.4" y="41.7" font-size="9.8" fill="#000" stroke="#000" stroke-width="0.3" textLength="32" lengthAdjust="spacingAndGlyphs">143.677</text>
<text x="188.6" y="41.7" font-size="9.8" fill="#000" stroke="#000" stroke-width="0.3" textLength="32" lengthAdjust="spacingAndGlyphs">143.789</text>
<text x="9.2" y="644.7" font-size="9.8" fill="#000" stroke="#000" stroke-width="0.3" textLength="64.5" lengthAdjust="spacingAndGlyphs">MACD(12,26,9)</text>
<text x="78" y="644.7" font-size="9.8" fill="#000" stroke="#000" stroke-width="0.3" textLength="27.5" lengthAdjust="spacingAndGlyphs">0.5951</text>
<text x="109" y="644.7" font-size="9.8" fill="#000" stroke="#000" stroke-width="0.3" textLength="28" lengthAdjust="spacingAndGlyphs">0.4430</text>
<text x="9.4" y="747.7" font-size="9.8" fill="#000" stroke="#000" stroke-width="0.3" textLength="31.5" lengthAdjust="spacingAndGlyphs">RSI(14)</text>
<text x="43.8" y="747.7" font-size="9.8" fill="#000" stroke="#000" stroke-width="0.3" textLength="33" lengthAdjust="spacingAndGlyphs">74.2886</text>
<rect x="5" y="438" width="1" height="105" fill="#000"/>
<rect x="5" y="441" width="6" height="64" fill="#000"/>
<rect x="5" y="442" width="5" height="62" fill="#00ff00"/>
<rect x="21" y="487" width="1" height="34" fill="#000"/>
<rect x="16" y="504" width="11" height="10" fill="#000"/>
<rect x="17" y="505" width="9" height="8" fill="#00ff00"/>
<rect x="37" y="507" width="1" height="30" fill="#000"/>
<rect x="32" y="513" width="11" height="15" fill="#000"/>
<rect x="33" y="514" width="9" height="13" fill="#00ff00"/>
<rect x="53" y="502" width="1" height="29" fill="#000"/>
<rect x="48" y="513" width="11" height="15" fill="#000"/>
<rect x="49" y="514" width="9" height="13" fill="#ff0000"/>
<rect x="69" y="505" width="1" height="55" fill="#000"/>
<rect x="64" y="513" width="11" height="26" fill="#000"/>
<rect x="65" y="514" width="9" height="24" fill="#00ff00"/>
<rect x="85" y="506" width="1" height="51" fill="#000"/>
<rect x="80" y="509" width="11" height="30" fill="#000"/>
<rect x="81" y="510" width="9" height="28" fill="#ff0000"/>
<rect x="101" y="469" width="1" height="47" fill="#000"/>
<rect x="96" y="501" width="11" height="8" fill="#000"/>
<rect x="97" y="502" width="9" height="6" fill="#ff0000"/>
<rect x="117" y="492" width="1" height="20" fill="#000"/>
<rect x="112" y="500" width="11" height="2" fill="#000"/>
<rect x="133" y="499" width="1" height="17" fill="#000"/>
<rect x="128" y="500" width="11" height="17" fill="#000"/>
<rect x="129" y="501" width="9" height="15" fill="#00ff00"/>
<rect x="149" y="512" width="1" height="40" fill="#000"/>
<rect x="144" y="516" width="11" height="22" fill="#000"/>
<rect x="145" y="517" width="9" height="20" fill="#00ff00"/>
<rect x="165" y="521" width="1" height="36" fill="#000"/>
<rect x="160" y="524" width="11" height="14" fill="#000"/>
<rect x="161" y="525" width="9" height="12" fill="#ff0000"/>
<rect x="181" y="519" width="1" height="25" fill="#000"/>
<rect x="176" y="524" width="11" height="8" fill="#000"/>
<rect x="177" y="525" width="9" height="6" fill="#00ff00"/>
<rect x="197" y="463" width="1" height="104" fill="#000"/>
<rect x="192" y="471" width="11" height="61" fill="#000"/>
<rect x="193" y="472" width="9" height="59" fill="#ff0000"/>
<rect x="213" y="443" width="1" height="31" fill="#000"/>
<rect x="208" y="444" width="11" height="27" fill="#000"/>
<rect x="209" y="445" width="9" height="25" fill="#ff0000"/>
<rect x="229" y="443" width="1" height="40" fill="#000"/>
<rect x="224" y="444" width="11" height="34" fill="#000"/>
<rect x="225" y="445" width="9" height="32" fill="#00ff00"/>
<rect x="245" y="458" width="1" height="32" fill="#000"/>
<rect x="240" y="477" width="11" height="11" fill="#000"/>
<rect x="241" y="478" width="9" height="9" fill="#00ff00"/>
<rect x="261" y="472" width="1" height="31" fill="#000"/>
<rect x="256" y="487" width="11" height="10" fill="#000"/>
<rect x="257" y="488" width="9" height="8" fill="#00ff00"/>
<rect x="277" y="483" width="1" height="24" fill="#000"/>
<rect x="272" y="495" width="11" height="5" fill="#000"/>
<rect x="273" y="496" width="9" height="3" fill="#00ff00"/>
<rect x="293" y="493" width="1" height="95" fill="#000"/>
<rect x="288" y="499" width="11" height="86" fill="#000"/>
<rect x="289" y="500" width="9" height="84" fill="#00ff00"/>
<rect x="309" y="568" width="1" height="16" fill="#000"/>
<rect x="304" y="576" width="11" height="9" fill="#000"/>
<rect x="305" y="577" width="9" height="7" fill="#ff0000"/>
<rect x="325" y="574" width="1" height="19" fill="#000"/>
<rect x="320" y="576" width="11" height="5" fill="#000"/>
<rect x="321" y="577" width="9" height="3" fill="#00ff00"/>
<rect x="341" y="538" width="1" height="44" fill="#000"/>
<rect x="336" y="541" width="11" height="40" fill="#000"/>
<rect x="337" y="542" width="9" height="38" fill="#ff0000"/>
<rect x="357" y="508" width="1" height="39" fill="#000"/>
<rect x="352" y="512" width="11" height="30" fill="#000"/>
<rect x="353" y="513" width="9" height="28" fill="#ff0000"/>
<rect x="373" y="496" width="1" height="37" fill="#000"/>
<rect x="368" y="512" width="11" height="19" fill="#000"/>
<rect x="369" y="513" width="9" height="17" fill="#00ff00"/>
<rect x="389" y="508" width="1" height="58" fill="#000"/>
<rect x="384" y="530" width="11" height="4" fill="#000"/>
<rect x="385" y="531" width="9" height="2" fill="#00ff00"/>
<rect x="405" y="527" width="1" height="14" fill="#000"/>
<rect x="400" y="528" width="11" height="5" fill="#000"/>
<rect x="401" y="529" width="9" height="3" fill="#ff0000"/>
<rect x="421" y="524" width="1" height="11" fill="#000"/>
<rect x="416" y="525" width="11" height="7" fill="#000"/>
<rect x="417" y="526" width="9" height="5" fill="#00ff00"/>
<rect x="437" y="504" width="1" height="39" fill="#000"/>
<rect x="432" y="525" width="11" height="7" fill="#000"/>
<rect x="433" y="526" width="9" height="5" fill="#ff0000"/>
<rect x="453" y="505" width="1" height="29" fill="#000"/>
<rect x="448" y="518" width="11" height="8" fill="#000"/>
<rect x="449" y="519" width="9" height="6" fill="#ff0000"/>
<rect x="469" y="515" width="1" height="48" fill="#000"/>
<rect x="464" y="517" width="11" height="14" fill="#000"/>
<rect x="465" y="518" width="9" height="12" fill="#00ff00"/>
<rect x="485" y="494" width="1" height="66" fill="#000"/>
<rect x="480" y="496" width="11" height="35" fill="#000"/>
<rect x="481" y="497" width="9" height="33" fill="#ff0000"/>
<rect x="501" y="491" width="1" height="24" fill="#000"/>
<rect x="496" y="496" width="11" height="16" fill="#000"/>
<rect x="497" y="497" width="9" height="14" fill="#00ff00"/>
<rect x="517" y="507" width="1" height="20" fill="#000"/>
<rect x="512" y="511" width="11" height="12" fill="#000"/>
<rect x="513" y="512" width="9" height="10" fill="#00ff00"/>
<rect x="533" y="502" width="1" height="34" fill="#000"/>
<rect x="528" y="522" width="11" height="8" fill="#000"/>
<rect x="529" y="523" width="9" height="6" fill="#00ff00"/>
<rect x="549" y="504" width="1" height="27" fill="#000"/>
<rect x="544" y="519" width="11" height="11" fill="#000"/>
<rect x="545" y="520" width="9" height="9" fill="#ff0000"/>
<rect x="565" y="505" width="1" height="16" fill="#000"/>
<rect x="560" y="516" width="11" height="4" fill="#000"/>
<rect x="561" y="517" width="9" height="2" fill="#ff0000"/>
<rect x="581" y="457" width="1" height="111" fill="#000"/>
<rect x="576" y="468" width="11" height="49" fill="#000"/>
<rect x="577" y="469" width="9" height="47" fill="#ff0000"/>
<rect x="597" y="437" width="1" height="48" fill="#000"/>
<rect x="592" y="447" width="11" height="22" fill="#000"/>
<rect x="593" y="448" width="9" height="20" fill="#ff0000"/>
<rect x="613" y="440" width="1" height="17" fill="#000"/>
<rect x="608" y="447" width="11" height="7" fill="#000"/>
<rect x="609" y="448" width="9" height="5" fill="#00ff00"/>
<rect x="629" y="449" width="1" height="26" fill="#000"/>
<rect x="624" y="455" width="11" height="13" fill="#000"/>
<rect x="625" y="456" width="9" height="11" fill="#00ff00"/>
<rect x="645" y="448" width="1" height="32" fill="#000"/>
<rect x="640" y="467" width="11" height="4" fill="#000"/>
<rect x="641" y="468" width="9" height="2" fill="#00ff00"/>
<rect x="661" y="462" width="1" height="22" fill="#000"/>
<rect x="656" y="469" width="11" height="2" fill="#000"/>
<rect x="677" y="470" width="1" height="70" fill="#000"/>
<rect x="672" y="470" width="11" height="65" fill="#000"/>
<rect x="673" y="471" width="9" height="63" fill="#00ff00"/>
<rect x="693" y="451" width="1" height="86" fill="#000"/>
<rect x="688" y="474" width="11" height="61" fill="#000"/>
<rect x="689" y="475" width="9" height="59" fill="#ff0000"/>
<rect x="709" y="456" width="1" height="23" fill="#000"/>
<rect x="704" y="471" width="11" height="4" fill="#000"/>
<rect x="705" y="472" width="9" height="2" fill="#ff0000"/>
<rect x="725" y="360" width="1" height="115" fill="#000"/>
<rect x="720" y="361" width="11" height="112" fill="#000"/>
<rect x="721" y="362" width="9" height="110" fill="#ff0000"/>
<rect x="741" y="318" width="1" height="43" fill="#000"/>
<rect x="736" y="341" width="11" height="21" fill="#000"/>
<rect x="737" y="342" width="9" height="19" fill="#ff0000"/>
<rect x="757" y="333" width="1" height="51" fill="#000"/>
<rect x="752" y="340" width="11" height="4" fill="#000"/>
<rect x="753" y="341" width="9" height="2" fill="#00ff00"/>
<rect x="773" y="338" width="1" height="116" fill="#000"/>
<rect x="768" y="343" width="11" height="77" fill="#000"/>
<rect x="769" y="344" width="9" height="75" fill="#00ff00"/>
<rect x="789" y="419" width="1" height="27" fill="#000"/>
<rect x="784" y="419" width="11" height="24" fill="#000"/>
<rect x="785" y="420" width="9" height="22" fill="#00ff00"/>
<rect x="805" y="438" width="1" height="22" fill="#000"/>
<rect x="800" y="442" width="11" height="1" fill="#000"/>
<rect x="821" y="391" width="1" height="93" fill="#000"/>
<rect x="816" y="416" width="11" height="26" fill="#000"/>
<rect x="817" y="417" width="9" height="24" fill="#ff0000"/>
<rect x="837" y="328" width="1" height="94" fill="#000"/>
<rect x="832" y="354" width="11" height="62" fill="#000"/>
<rect x="833" y="355" width="9" height="60" fill="#ff0000"/>
<rect x="853" y="334" width="1" height="56" fill="#000"/>
<rect x="848" y="353" width="11" height="19" fill="#000"/>
<rect x="849" y="354" width="9" height="17" fill="#00ff00"/>
<rect x="869" y="280" width="1" height="98" fill="#000"/>
<rect x="864" y="286" width="11" height="86" fill="#000"/>
<rect x="865" y="287" width="9" height="84" fill="#ff0000"/>
<rect x="885" y="279" width="1" height="24" fill="#000"/>
<rect x="880" y="286" width="11" height="4" fill="#000"/>
<rect x="881" y="287" width="9" height="2" fill="#00ff00"/>
<rect x="901" y="273" width="1" height="10" fill="#000"/>
<rect x="896" y="281" width="11" height="3" fill="#000"/>
<rect x="897" y="282" width="9" height="1" fill="#ff0000"/>
<rect x="917" y="271" width="1" height="47" fill="#000"/>
<rect x="912" y="282" width="11" height="34" fill="#000"/>
<rect x="913" y="283" width="9" height="32" fill="#00ff00"/>
<rect x="933" y="273" width="1" height="52" fill="#000"/>
<rect x="928" y="283" width="11" height="33" fill="#000"/>
<rect x="929" y="284" width="9" height="31" fill="#ff0000"/>
<rect x="949" y="268" width="1" height="26" fill="#00ff00"/>
<rect x="944" y="283" width="11" height="1" fill="#00ff00"/>
<rect x="965" y="276" width="1" height="27" fill="#000"/>
<rect x="960" y="278" width="11" height="7" fill="#000"/>
<rect x="961" y="279" width="9" height="5" fill="#ff0000"/>
<rect x="981" y="272" width="1" height="8" fill="#000"/>
<rect x="976" y="276" width="11" height="3" fill="#000"/>
<rect x="977" y="277" width="9" height="1" fill="#ff0000"/>
<rect x="997" y="269" width="1" height="17" fill="#000"/>
<rect x="992" y="271" width="11" height="9" fill="#000"/>
<rect x="993" y="272" width="9" height="7" fill="#00ff00"/>
<rect x="1013" y="243" width="1" height="68" fill="#000"/>
<rect x="1008" y="278" width="11" height="19" fill="#000"/>
<rect x="1009" y="279" width="9" height="17" fill="#00ff00"/>
<rect x="1029" y="254" width="1" height="54" fill="#000"/>
<rect x="1024" y="292" width="11" height="5" fill="#000"/>
<rect x="1025" y="293" width="9" height="3" fill="#ff0000"/>
<rect x="1045" y="289" width="1" height="46" fill="#000"/>
<rect x="1040" y="292" width="11" height="40" fill="#000"/>
<rect x="1041" y="293" width="9" height="38" fill="#00ff00"/>
<rect x="1061" y="294" width="1" height="51" fill="#000"/>
<rect x="1056" y="321" width="11" height="11" fill="#000"/>
<rect x="1057" y="322" width="9" height="9" fill="#ff0000"/>
<rect x="1077" y="317" width="1" height="31" fill="#000"/>
<rect x="1072" y="321" width="11" height="4" fill="#000"/>
<rect x="1073" y="322" width="9" height="2" fill="#00ff00"/>
<rect x="1093" y="322" width="1" height="19" fill="#000"/>
<rect x="1088" y="324" width="11" height="12" fill="#000"/>
<rect x="1089" y="325" width="9" height="10" fill="#00ff00"/>
<rect x="1109" y="295" width="1" height="41" fill="#000"/>
<rect x="1104" y="305" width="11" height="30" fill="#000"/>
<rect x="1105" y="306" width="9" height="28" fill="#ff0000"/>
<rect x="1125" y="258" width="1" height="50" fill="#000"/>
<rect x="1120" y="260" width="11" height="46" fill="#000"/>
<rect x="1121" y="261" width="9" height="44" fill="#ff0000"/>
<rect x="1141" y="252" width="1" height="47" fill="#000"/>
<rect x="1136" y="259" width="11" height="29" fill="#000"/>
<rect x="1137" y="260" width="9" height="27" fill="#00ff00"/>
<rect x="1157" y="232" width="1" height="63" fill="#000"/>
<rect x="1152" y="260" width="11" height="28" fill="#000"/>
<rect x="1153" y="261" width="9" height="26" fill="#ff0000"/>
<rect x="1173" y="256" width="1" height="45" fill="#000"/>
<rect x="1168" y="260" width="11" height="31" fill="#000"/>
<rect x="1169" y="261" width="9" height="29" fill="#00ff00"/>
<rect x="1189" y="277" width="1" height="27" fill="#000"/>
<rect x="1184" y="290" width="11" height="11" fill="#000"/>
<rect x="1185" y="291" width="9" height="9" fill="#00ff00"/>
<rect x="1205" y="279" width="1" height="29" fill="#000"/>
<rect x="1200" y="294" width="11" height="7" fill="#000"/>
<rect x="1201" y="295" width="9" height="5" fill="#ff0000"/>
<rect x="1221" y="273" width="1" height="34" fill="#000"/>
<rect x="1216" y="291" width="11" height="4" fill="#000"/>
<rect x="1217" y="292" width="9" height="2" fill="#ff0000"/>
<rect x="1237" y="252" width="1" height="38" fill="#000"/>
<rect x="1232" y="256" width="11" height="35" fill="#000"/>
<rect x="1233" y="257" width="9" height="33" fill="#ff0000"/>
<rect x="1253" y="179" width="1" height="114" fill="#000"/>
<rect x="1248" y="180" width="11" height="77" fill="#000"/>
<rect x="1249" y="181" width="9" height="75" fill="#ff0000"/>
<rect x="1269" y="146" width="1" height="37" fill="#000"/>
<rect x="1264" y="153" width="11" height="28" fill="#000"/>
<rect x="1265" y="154" width="9" height="26" fill="#ff0000"/>
<rect x="1285" y="151" width="1" height="23" fill="#000"/>
<rect x="1280" y="153" width="11" height="13" fill="#000"/>
<rect x="1281" y="154" width="9" height="11" fill="#00ff00"/>
<rect x="1301" y="153" width="1" height="35" fill="#000"/>
<rect x="1296" y="162" width="11" height="4" fill="#000"/>
<rect x="1297" y="163" width="9" height="2" fill="#ff0000"/>
<rect x="1317" y="123" width="1" height="69" fill="#000"/>
<rect x="1312" y="162" width="11" height="19" fill="#000"/>
<rect x="1313" y="163" width="9" height="17" fill="#00ff00"/>
<rect x="1333" y="137" width="1" height="45" fill="#000"/>
<rect x="1328" y="142" width="11" height="39" fill="#000"/>
<rect x="1329" y="143" width="9" height="37" fill="#ff0000"/>
<rect x="1349" y="82" width="1" height="119" fill="#000"/>
<rect x="1344" y="90" width="11" height="53" fill="#000"/>
<rect x="1345" y="91" width="9" height="51" fill="#ff0000"/>
<rect x="1365" y="81" width="1" height="20" fill="#000"/>
<rect x="1360" y="89" width="11" height="2" fill="#000"/>
<rect x="5" y="89" width="1639" height="1" fill="#000"/>
<rect x="1646" y="84" width="41" height="11" fill="#000"/>
<text x="1650.7" y="92.7" font-size="9.8" fill="#fff" stroke="#fff" stroke-width="0.3" textLength="32" lengthAdjust="spacingAndGlyphs">143.789</text>
<rect x="5" y="34" width="1639" height="2" fill="#0000ff"/>
<rect x="4" y="32" width="6" height="6" fill="#0000ff"/>
<rect x="6" y="34" width="2" height="2" fill="#fff"/>
<rect x="1638" y="32" width="6" height="6" fill="#0000ff"/>
<rect x="1640" y="34" width="2" height="2" fill="#fff"/>
<rect x="1646" y="29" width="41" height="11" fill="#0000ff"/>
<text x="1650.7" y="37.7" font-size="9.8" fill="#fff" stroke="#fff" stroke-width="0.3" textLength="32" lengthAdjust="spacingAndGlyphs">144.320</text>
<rect x="5" y="60" width="1639" height="2" fill="#0000ff"/>
<rect x="4" y="58" width="6" height="6" fill="#0000ff"/>
<rect x="6" y="60" width="2" height="2" fill="#fff"/>
<rect x="1638" y="58" width="6" height="6" fill="#0000ff"/>
<rect x="1640" y="60" width="2" height="2" fill="#fff"/>
<rect x="1646" y="55" width="41" height="11" fill="#0000ff"/>
<text x="1650.7" y="63.7" font-size="9.8" fill="#fff" stroke="#fff" stroke-width="0.3" textLength="32" lengthAdjust="spacingAndGlyphs">144.065</text>
<rect x="5" y="103" width="1639" height="2" fill="#48d1cc"/>
<rect x="4" y="101" width="6" height="6" fill="#48d1cc"/>
<rect x="6" y="103" width="2" height="2" fill="#fff"/>
<rect x="1638" y="101" width="6" height="6" fill="#48d1cc"/>
<rect x="1640" y="103" width="2" height="2" fill="#fff"/>
<rect x="1646" y="98" width="41" height="11" fill="#48d1cc"/>
<text x="1650.7" y="106.7" font-size="9.8" fill="#fff" stroke="#fff" stroke-width="0.3" textLength="32" lengthAdjust="spacingAndGlyphs">143.633</text>
<rect x="5" y="130" width="1639" height="2" fill="#ff0000"/>
<rect x="4" y="128" width="6" height="6" fill="#ff0000"/>
<rect x="6" y="130" width="2" height="2" fill="#fff"/>
<rect x="1638" y="128" width="6" height="6" fill="#ff0000"/>
<rect x="1640" y="130" width="2" height="2" fill="#fff"/>
<rect x="1646" y="125" width="41" height="11" fill="#ff0000"/>
<text x="1650.7" y="133.7" font-size="9.8" fill="#fff" stroke="#fff" stroke-width="0.3" textLength="32" lengthAdjust="spacingAndGlyphs">143.367</text>
<rect x="5" y="160" width="1639" height="2" fill="#dc143c"/>
<rect x="4" y="158" width="6" height="6" fill="#dc143c"/>
<rect x="6" y="160" width="2" height="2" fill="#fff"/>
<rect x="1638" y="158" width="6" height="6" fill="#dc143c"/>
<rect x="1640" y="160" width="2" height="2" fill="#fff"/>
<rect x="1646" y="155" width="41" height="11" fill="#dc143c"/>
<text x="1650.7" y="163.7" font-size="9.8" fill="#fff" stroke="#fff" stroke-width="0.3" textLength="32" lengthAdjust="spacingAndGlyphs">143.064</text>
<rect x="1345" y="103" width="9" height="2" fill="#40e8e0"/>
<rect x="1392" y="31" width="9" height="1" fill="#000"/>
<rect x="1393" y="32" width="7" height="1" fill="#000"/>
<rect x="1394" y="33" width="5" height="1" fill="#000"/>
<rect x="1395" y="34" width="3" height="1" fill="#000"/>
<rect x="1396" y="35" width="1" height="1" fill="#000"/>
<g shape-rendering="geometricPrecision"><line x1="1378" y1="250.8" x2="1431" y2="158.5" stroke="#ed1c24" stroke-width="3"/><polygon points="1438.6,145.6 1421.6,156.6 1437.6,165.8" fill="#ed1c24"/></g>
<rect x="5" y="700" width="2" height="13" fill="#00ff00"/>
<rect x="20" y="703" width="3" height="10" fill="#00ff00"/>
<rect x="36" y="707" width="3" height="6" fill="#00ff00"/>
<rect x="52" y="709" width="3" height="4" fill="#00ff00"/>
<rect x="68" y="712" width="3" height="1" fill="#00ff00"/>
<rect x="84" y="713" width="3" height="1" fill="#00ff00"/>
<rect x="100" y="712" width="3" height="1" fill="#00ff00"/>
<rect x="116" y="711" width="3" height="2" fill="#00ff00"/>
<rect x="132" y="713" width="3" height="1" fill="#00ff00"/>
<rect x="148" y="713" width="3" height="4" fill="#00ff00"/>
<rect x="164" y="713" width="3" height="5" fill="#00ff00"/>
<rect x="180" y="713" width="3" height="6" fill="#00ff00"/>
<rect x="196" y="713" width="3" height="1" fill="#00ff00"/>
<rect x="212" y="707" width="3" height="6" fill="#00ff00"/>
<rect x="228" y="705" width="3" height="8" fill="#00ff00"/>
<rect x="244" y="705" width="3" height="8" fill="#00ff00"/>
<rect x="260" y="705" width="3" height="8" fill="#00ff00"/>
<rect x="276" y="706" width="3" height="7" fill="#00ff00"/>
<rect x="292" y="713" width="3" height="4" fill="#00ff00"/>
<rect x="308" y="713" width="3" height="10" fill="#00ff00"/>
<rect x="324" y="713" width="3" height="16" fill="#00ff00"/>
<rect x="340" y="713" width="3" height="16" fill="#00ff00"/>
<rect x="356" y="713" width="3" height="13" fill="#00ff00"/>
<rect x="372" y="713" width="3" height="12" fill="#00ff00"/>
<rect x="388" y="713" width="3" height="12" fill="#00ff00"/>
<rect x="404" y="713" width="3" height="11" fill="#00ff00"/>
<rect x="420" y="713" width="3" height="10" fill="#00ff00"/>
<rect x="436" y="713" width="3" height="10" fill="#00ff00"/>
<rect x="452" y="713" width="3" height="8" fill="#00ff00"/>
<rect x="468" y="713" width="3" height="8" fill="#00ff00"/>
<rect x="484" y="713" width="3" height="4" fill="#00ff00"/>
<rect x="500" y="713" width="3" height="3" fill="#00ff00"/>
<rect x="516" y="713" width="3" height="3" fill="#00ff00"/>
<rect x="532" y="713" width="3" height="3" fill="#00ff00"/>
<rect x="548" y="713" width="3" height="3" fill="#00ff00"/>
<rect x="564" y="713" width="3" height="2" fill="#00ff00"/>
<rect x="580" y="709" width="3" height="4" fill="#00ff00"/>
<rect x="596" y="703" width="3" height="10" fill="#00ff00"/>
<rect x="612" y="698" width="3" height="15" fill="#00ff00"/>
<rect x="628" y="697" width="3" height="16" fill="#00ff00"/>
<rect x="644" y="696" width="3" height="17" fill="#00ff00"/>
<rect x="660" y="695" width="3" height="18" fill="#00ff00"/>
<rect x="676" y="702" width="3" height="11" fill="#00ff00"/>
<rect x="692" y="701" width="3" height="12" fill="#00ff00"/>
<rect x="708" y="700" width="3" height="13" fill="#00ff00"/>
<rect x="724" y="688" width="3" height="25" fill="#00ff00"/>
<rect x="740" y="677" width="3" height="36" fill="#00ff00"/>
<rect x="756" y="669" width="3" height="44" fill="#00ff00"/>
<rect x="772" y="671" width="3" height="42" fill="#00ff00"/>
<rect x="788" y="676" width="3" height="37" fill="#00ff00"/>
<rect x="804" y="679" width="3" height="34" fill="#00ff00"/>
<rect x="820" y="680" width="3" height="33" fill="#00ff00"/>
<rect x="836" y="675" width="3" height="38" fill="#00ff00"/>
<rect x="852" y="673" width="3" height="40" fill="#00ff00"/>
<rect x="868" y="663" width="3" height="50" fill="#00ff00"/>
<rect x="884" y="656" width="3" height="57" fill="#00ff00"/>
<rect x="900" y="651" width="3" height="62" fill="#00ff00"/>
<rect x="916" y="651" width="3" height="62" fill="#00ff00"/>
<rect x="932" y="648" width="3" height="65" fill="#00ff00"/>
<rect x="948" y="647" width="3" height="66" fill="#00ff00"/>
<rect x="964" y="646" width="3" height="67" fill="#00ff00"/>
<rect x="980" y="646" width="3" height="67" fill="#00ff00"/>
<rect x="996" y="647" width="3" height="66" fill="#00ff00"/>
<rect x="1012" y="651" width="3" height="62" fill="#00ff00"/>
<rect x="1028" y="653" width="3" height="60" fill="#00ff00"/>
<rect x="1044" y="660" width="3" height="53" fill="#00ff00"/>
<rect x="1060" y="665" width="3" height="48" fill="#00ff00"/>
<rect x="1076" y="670" width="3" height="43" fill="#00ff00"/>
<rect x="1092" y="675" width="3" height="38" fill="#00ff00"/>
<rect x="1108" y="677" width="3" height="36" fill="#00ff00"/>
<rect x="1124" y="674" width="3" height="39" fill="#00ff00"/>
<rect x="1140" y="675" width="3" height="38" fill="#00ff00"/>
<rect x="1156" y="673" width="3" height="40" fill="#00ff00"/>
<rect x="1172" y="676" width="3" height="37" fill="#00ff00"/>
<rect x="1188" y="679" width="3" height="34" fill="#00ff00"/>
<rect x="1204" y="681" width="3" height="32" fill="#00ff00"/>
<rect x="1220" y="683" width="3" height="30" fill="#00ff00"/>
<rect x="1236" y="681" width="3" height="32" fill="#00ff00"/>
<rect x="1252" y="672" width="3" height="41" fill="#00ff00"/>
<rect x="1268" y="663" width="3" height="50" fill="#00ff00"/>
<rect x="1284" y="658" width="3" height="55" fill="#00ff00"/>
<rect x="1300" y="654" width="3" height="59" fill="#00ff00"/>
<rect x="1316" y="654" width="3" height="59" fill="#00ff00"/>
<rect x="1332" y="650" width="3" height="63" fill="#00ff00"/>
<rect x="1348" y="643" width="3" height="70" fill="#00ff00"/>
<rect x="1364" y="638" width="3" height="75" fill="#00ff00"/>
<polyline points="5.5,719.5 21.5,715.3 37.5,711.0 53.5,709.1 69.5,707.0 85.5,706.3 101.5,706.3 117.5,707.0 133.5,708.3 149.5,710.8 165.5,712.0 181.5,713.0 197.5,714.0 213.5,713.6 229.5,712.6 245.5,712.0 261.5,711.6 277.5,710.6 293.5,710.8 309.5,711.6 325.5,712.6 341.5,714.8 357.5,716.3 373.5,718.0 389.5,720.0 405.5,722.1 421.5,724.0 437.5,724.0 453.5,724.0 469.5,723.5 485.5,722.5 501.5,721.5 517.5,720.5 533.5,719.5 549.5,718.5 565.5,717.8 581.5,715.1 597.5,713.1 613.5,710.7 629.5,709.3 645.5,707.7 661.5,705.7 677.5,703.7 693.5,702.7 709.5,701.0 725.5,698.6 741.5,695.6 757.5,692.6 773.5,689.6 789.5,686.6 805.5,685.6 821.5,682.6 837.5,679.5 853.5,676.5 869.5,674.5 885.5,671.7 901.5,669.9 917.5,668.1 933.5,665.1 949.5,662.1 965.5,658.0 981.5,655.0 997.5,651.6 1013.5,650.0 1029.5,649.4 1045.5,650.4 1061.5,652.4 1077.5,654.4 1093.5,657.4 1109.5,661.0 1125.5,664.1 1141.5,667.1 1157.5,669.1 1173.5,672.5 1189.5,674.5 1205.5,676.9 1221.5,678.1 1237.5,678.1 1253.5,677.7 1269.5,676.9 1285.5,674.9 1301.5,672.9 1317.5,671.1 1333.5,667.1 1349.5,662.5 1365.5,658.0" fill="none" stroke="#ff0000" stroke-width="2" stroke-linejoin="round"/>
<polyline points="5.5,781.1 21.5,781.5 37.5,783.1 53.5,782.1 69.5,784.1 85.5,780.5 101.5,779.5 117.5,779.1 133.5,781.1 149.5,784.1 165.5,783.1 181.5,783.1 197.5,774.1 213.5,772.1 229.5,776.9 245.5,778.7 261.5,779.5 277.5,779.9 293.5,790.0 309.5,789.6 325.5,789.2 341.5,783.5 357.5,780.1 373.5,782.1 389.5,782.1 405.5,782.1 421.5,782.1 437.5,782.1 453.5,780.1 469.5,782.5 485.5,777.1 501.5,779.1 517.5,780.5 533.5,782.1 549.5,781.5 565.5,780.1 581.5,771.5 597.5,769.1 613.5,769.1 629.5,772.9 645.5,772.9 661.5,772.9 677.5,786.5 693.5,776.5 709.5,776.1 725.5,764.4 741.5,763.0 757.5,763.0 773.5,776.1 789.5,778.1 805.5,778.1 821.5,775.1 837.5,770.5 853.5,771.5 869.5,765.4 885.5,765.4 901.5,765.4 917.5,769.1 933.5,767.5 949.5,767.1 965.5,766.5 981.5,765.9 997.5,767.1 1013.5,769.9 1029.5,770.3 1045.5,776.1 1061.5,776.1 1077.5,775.1 1093.5,777.1 1109.5,773.5 1125.5,767.9 1141.5,771.9 1157.5,770.3 1173.5,774.9 1189.5,776.1 1205.5,776.3 1221.5,775.2 1237.5,769.5 1253.5,763.4 1269.5,762.2 1285.5,763.3 1301.5,763.3 1317.5,766.2 1333.5,763.6 1349.5,759.7 1365.5,759.2" fill="none" stroke="#1e90ff" stroke-width="2" stroke-linejoin="round"/>
<line x1="5" y1="754.5" x2="1644" y2="754.5" stroke="#000" stroke-width="1" stroke-dasharray="3 3" stroke-dashoffset="5"/>
<line x1="5" y1="780.5" x2="1644" y2="780.5" stroke="#000" stroke-width="1" stroke-dasharray="3 3" stroke-dashoffset="5"/>
<line x1="5" y1="810.5" x2="1644" y2="810.5" stroke="#000" stroke-width="1" stroke-dasharray="3 3" stroke-dashoffset="5"/>
<rect x="5" y="825" width="1" height="3" fill="#000"/>
<text x="4.4" y="836.7" font-size="9.8" fill="#000" stroke="#000" stroke-width="0.3" textLength="44.5" lengthAdjust="spacingAndGlyphs">5 Jun 2023</text>
<rect x="69" y="825" width="1" height="3" fill="#000"/>
<text x="68.4" y="836.7" font-size="9.8" fill="#000" stroke="#000" stroke-width="0.3" textLength="48" lengthAdjust="spacingAndGlyphs">6 Jun 04:00</text>
<rect x="133" y="825" width="1" height="3" fill="#000"/>
<text x="132.4" y="836.7" font-size="9.8" fill="#000" stroke="#000" stroke-width="0.3" textLength="48" lengthAdjust="spacingAndGlyphs">6 Jun 20:00</text>
<rect x="197" y="825" width="1" height="3" fill="#000"/>
<text x="196.4" y="836.7" font-size="9.8" fill="#000" stroke="#000" stroke-width="0.3" textLength="48" lengthAdjust="spacingAndGlyphs">7 Jun 12:00</text>
<rect x="261" y="825" width="1" height="3" fill="#000"/>
<text x="260.4" y="836.7" font-size="9.8" fill="#000" stroke="#000" stroke-width="0.3" textLength="48" lengthAdjust="spacingAndGlyphs">8 Jun 04:00</text>
<rect x="325" y="825" width="1" height="3" fill="#000"/>
<text x="324.4" y="836.7" font-size="9.8" fill="#000" stroke="#000" stroke-width="0.3" textLength="48" lengthAdjust="spacingAndGlyphs">8 Jun 20:00</text>
<rect x="389" y="825" width="1" height="3" fill="#000"/>
<text x="388.4" y="836.7" font-size="9.8" fill="#000" stroke="#000" stroke-width="0.3" textLength="48" lengthAdjust="spacingAndGlyphs">9 Jun 12:00</text>
<rect x="453" y="825" width="1" height="3" fill="#000"/>
<text x="452.4" y="836.7" font-size="9.8" fill="#000" stroke="#000" stroke-width="0.3" textLength="53" lengthAdjust="spacingAndGlyphs">12 Jun 04:00</text>
<rect x="517" y="825" width="1" height="3" fill="#000"/>
<text x="516.4" y="836.7" font-size="9.8" fill="#000" stroke="#000" stroke-width="0.3" textLength="53" lengthAdjust="spacingAndGlyphs">12 Jun 20:00</text>
<rect x="581" y="825" width="1" height="3" fill="#000"/>
<text x="580.4" y="836.7" font-size="9.8" fill="#000" stroke="#000" stroke-width="0.3" textLength="53" lengthAdjust="spacingAndGlyphs">13 Jun 12:00</text>
<rect x="645" y="825" width="1" height="3" fill="#000"/>
<text x="644.4" y="836.7" font-size="9.8" fill="#000" stroke="#000" stroke-width="0.3" textLength="53" lengthAdjust="spacingAndGlyphs">14 Jun 04:00</text>
<rect x="709" y="825" width="1" height="3" fill="#000"/>
<text x="708.4" y="836.7" font-size="9.8" fill="#000" stroke="#000" stroke-width="0.3" textLength="53" lengthAdjust="spacingAndGlyphs">14 Jun 20:00</text>
<rect x="773" y="825" width="1" height="3" fill="#000"/>
<text x="772.4" y="836.7" font-size="9.8" fill="#000" stroke="#000" stroke-width="0.3" textLength="53" lengthAdjust="spacingAndGlyphs">15 Jun 12:00</text>
<rect x="837" y="825" width="1" height="3" fill="#000"/>
<text x="836.4" y="836.7" font-size="9.8" fill="#000" stroke="#000" stroke-width="0.3" textLength="53" lengthAdjust="spacingAndGlyphs">16 Jun 04:00</text>
<rect x="901" y="825" width="1" height="3" fill="#000"/>
<text x="900.4" y="836.7" font-size="9.8" fill="#000" stroke="#000" stroke-width="0.3" textLength="53" lengthAdjust="spacingAndGlyphs">18 Jun 23:00</text>
<rect x="965" y="825" width="1" height="3" fill="#000"/>
<text x="964.4" y="836.7" font-size="9.8" fill="#000" stroke="#000" stroke-width="0.3" textLength="53" lengthAdjust="spacingAndGlyphs">19 Jun 12:00</text>
<rect x="1029" y="825" width="1" height="3" fill="#000"/>
<text x="1028.4" y="836.7" font-size="9.8" fill="#000" stroke="#000" stroke-width="0.3" textLength="53" lengthAdjust="spacingAndGlyphs">20 Jun 04:00</text>
<rect x="1093" y="825" width="1" height="3" fill="#000"/>
<text x="1092.4" y="836.7" font-size="9.8" fill="#000" stroke="#000" stroke-width="0.3" textLength="53" lengthAdjust="spacingAndGlyphs">20 Jun 20:00</text>
<rect x="1157" y="825" width="1" height="3" fill="#000"/>
<text x="1156.4" y="836.7" font-size="9.8" fill="#000" stroke="#000" stroke-width="0.3" textLength="53" lengthAdjust="spacingAndGlyphs">21 Jun 12:00</text>
<rect x="1221" y="825" width="1" height="3" fill="#000"/>
<text x="1220.4" y="836.7" font-size="9.8" fill="#000" stroke="#000" stroke-width="0.3" textLength="53" lengthAdjust="spacingAndGlyphs">22 Jun 04:00</text>
<rect x="1285" y="825" width="1" height="3" fill="#000"/>
<text x="1284.4" y="836.7" font-size="9.8" fill="#000" stroke="#000" stroke-width="0.3" textLength="53" lengthAdjust="spacingAndGlyphs">22 Jun 20:00</text>
<rect x="1349" y="825" width="1" height="3" fill="#000"/>
<text x="1348.4" y="836.7" font-size="9.8" fill="#000" stroke="#000" stroke-width="0.3" textLength="53" lengthAdjust="spacingAndGlyphs">23 Jun 12:00</text>
</svg>
</body></html>
